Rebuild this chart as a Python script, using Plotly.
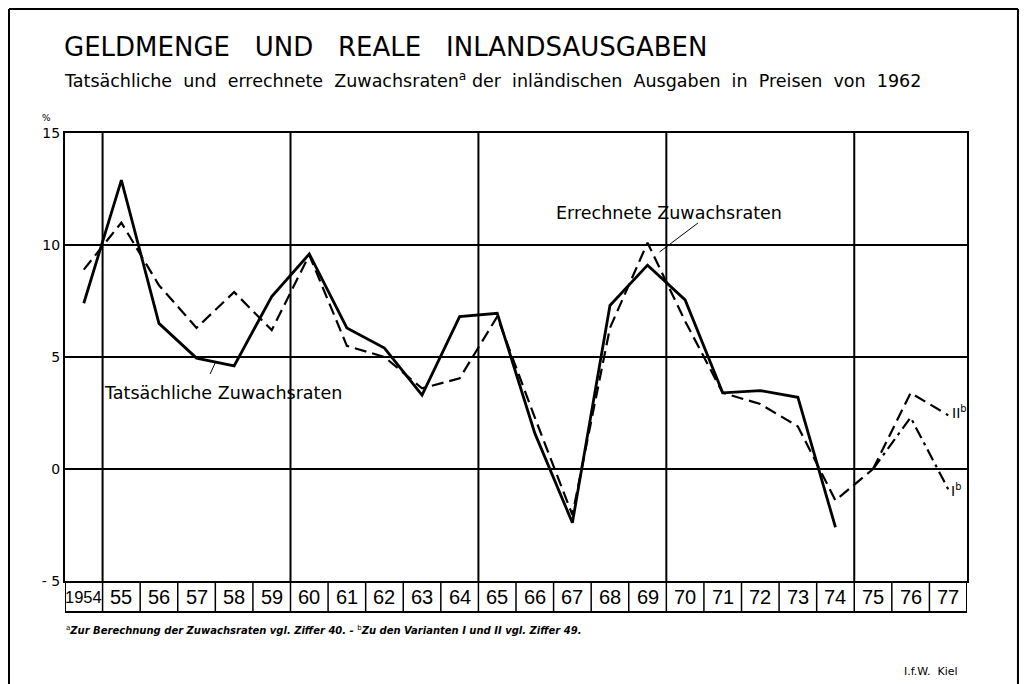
import plotly.graph_objects as go

# ---- data ----
years = list(range(1954, 1978))
year_labels = ["1954"] + [str(y)[2:] for y in range(1955, 1978)]
actual = [7.4, 12.9, 6.5, 4.95, 4.6, 7.7, 9.6, 6.3, 5.4, 3.3, 6.8, 6.95,
          1.6, -2.4, 7.3, 9.1, 7.55, 3.4, 3.5, 3.2, -2.6, None, None, None]
computed = [8.9, 11.0, 8.2, 6.3, 7.9, 6.2, 9.55, 5.5, 5.0, 3.6, 4.05, 6.8,
            2.3, -2.05, 6.3, 10.1, 6.6, 3.4, 2.9, 1.9, -1.4, 0.0, None, None]
variant_years = [1975, 1976, 1977]
variant_I = [0.0, 2.3, -0.9]
variant_II = [0.0, 3.4, 2.4]
y_ticks = [-5, 0, 5, 10, 15]
y_ticktext = ["- 5", "0", "5", "10", "15"]
group_breaks = [1954.5, 1959.5, 1964.5, 1969.5, 1974.5]

FONT = "DejaVu Sans"
LBL = "Liberation Sans, Arial, sans-serif"

fig = go.Figure()
fig.add_trace(go.Scatter(x=years, y=actual, mode="lines",
                         line=dict(color="black", width=2.8), name="Tatsächliche Zuwachsraten"))
fig.add_trace(go.Scatter(x=years, y=computed, mode="lines",
                         line=dict(color="black", width=2.2, dash="12px,6px"),
                         name="Errechnete Zuwachsraten"))
fig.add_trace(go.Scatter(x=variant_years, y=variant_II, mode="lines",
                         line=dict(color="black", width=2.2, dash="12px,6px"), name="II"))
fig.add_trace(go.Scatter(x=variant_years, y=variant_I, mode="lines",
                         line=dict(color="black", width=2.2, dash="12px,5px,3px,5px"), name="I"))

x0, x1 = years[0] - 0.5, years[-1] + 0.5
box_bottom = -31 / 448

shapes = []
for b in group_breaks:
    shapes.append(dict(type="line", xref="x", yref="y", x0=b, x1=b, y0=-5, y1=15,
                       line=dict(color="black", width=2)))
for y in years[:-1]:
    shapes.append(dict(type="line", xref="x", yref="paper", x0=y + 0.5, x1=y + 0.5,
                       y0=0, y1=box_bottom, line=dict(color="black", width=1.5)))
for xe in (x0, x1):
    shapes.append(dict(type="line", xref="x", yref="paper", x0=xe, x1=xe,
                       y0=0, y1=box_bottom, line=dict(color="black", width=2)))
shapes.append(dict(type="line", xref="x", yref="paper", x0=x0, x1=x1,
                   y0=box_bottom, y1=box_bottom, line=dict(color="black", width=2)))
shapes.append(dict(type="line", xref="x", yref="y", x0=1970.34, y0=10.98, x1=1969.32, y1=9.69,
                   line=dict(color="black", width=1)))
shapes.append(dict(type="line", xref="x", yref="y", x0=1957.36, y0=4.24, x1=1957.52, y1=4.82,
                   line=dict(color="black", width=1)))
# outer page frame (open at the bottom)
fl, fr, ft = -56 / 902, 1.0565, 1 + 124 / 448
shapes.append(dict(type="line", xref="paper", yref="paper", x0=fl, x1=fl, y0=-0.4, y1=ft,
                   line=dict(color="black", width=2)))
shapes.append(dict(type="line", xref="paper", yref="paper", x0=fr, x1=fr, y0=-0.4, y1=ft,
                   line=dict(color="black", width=2)))
shapes.append(dict(type="line", xref="paper", yref="paper", x0=fl, x1=fr, y0=ft, y1=ft,
                   line=dict(color="black", width=2)))

annotations = []
for y, lab in zip(years, year_labels):
    annotations.append(dict(x=y, y=-0.0346, xref="x", yref="paper", text=lab, showarrow=False,
                            font=dict(family=LBL, size=16.5 if len(lab) > 2 else 20, color="black"),
                            xanchor="center", yanchor="middle"))
sp = "\u00a0\u00a0\u00a0"
annotations += [
    dict(x=-0.003, y=1.192, xref="paper", yref="paper", xanchor="left", yanchor="middle",
         text=f"GELDMENGE{sp}UND{sp}REALE{sp}INLANDSAUSGABEN", showarrow=False,
         font=dict(family=FONT, size=26, color="black")),
    dict(x=-0.003, y=1.118, xref="paper", yref="paper", xanchor="left", yanchor="middle",
         text="Tatsächliche\u00a0 und\u00a0 errechnete\u00a0 Zuwachsraten<sup>a</sup>\u00a0der\u00a0 inländischen\u00a0 Ausgaben\u00a0 in\u00a0 Preisen\u00a0 von\u00a0 1962",
         showarrow=False, font=dict(family=FONT, size=17.5, color="black")),
    dict(x=-0.02, y=1.034, xref="paper", yref="paper", xanchor="center", yanchor="middle",
         text="%", showarrow=False, font=dict(family=FONT, size=9, color="black")),
    dict(x=1969.56, y=11.43, xref="x", yref="y", text="Errechnete Zuwachsraten",
         showarrow=False, font=dict(family=FONT, size=17.5, color="black")),
    dict(x=1957.7, y=3.39, xref="x", yref="y", text="Tatsächliche Zuwachsraten",
         showarrow=False, font=dict(family=FONT, size=17.5, color="black")),
    dict(x=1977.3, y=2.54, xref="x", yref="y", text="II<sup>b</sup>",
         showarrow=False, font=dict(family=FONT, size=14, color="black")),
    dict(x=1977.2, y=-0.94, xref="x", yref="y", text="I<sup>b</sup>",
         showarrow=False, font=dict(family=FONT, size=14, color="black")),
    dict(x=-0.001, y=-0.109, xref="paper", yref="paper", xanchor="left", yanchor="middle",
         text="<sup>a</sup><b><i>Zur Berechnung der Zuwachsraten vgl. Ziffer 40. - </i></b><sup>b</sup><b><i>Zu den Varianten I und II vgl. Ziffer 49.</i></b>",
         showarrow=False, font=dict(family=FONT, size=10, color="black")),
    dict(x=0.992, y=-0.203, xref="paper", yref="paper", xanchor="right", yanchor="middle",
         text="I.f.W.\u00a0 Kiel", showarrow=False, font=dict(family=FONT, size=11, color="black")),
]

fig.update_layout(
    width=1032, height=684,
    margin=dict(l=57, r=73, t=125, b=111),
    paper_bgcolor="white", plot_bgcolor="white",
    showlegend=False,
    shapes=shapes, annotations=annotations,
    xaxis=dict(range=[x0, x1], showgrid=False, zeroline=False, showticklabels=False,
               ticks="", showline=True, linecolor="black", linewidth=2, mirror=True),
    yaxis=dict(range=[-5, 15], tickvals=y_ticks, ticktext=y_ticktext, showgrid=True,
               gridcolor="black", gridwidth=2, zeroline=True, zerolinecolor="black",
               zerolinewidth=2, ticks="", showline=True, linecolor="black", linewidth=2,
               mirror=True, tickfont=dict(family=FONT, size=14, color="black")),
)

fig.write_html("out.html")
